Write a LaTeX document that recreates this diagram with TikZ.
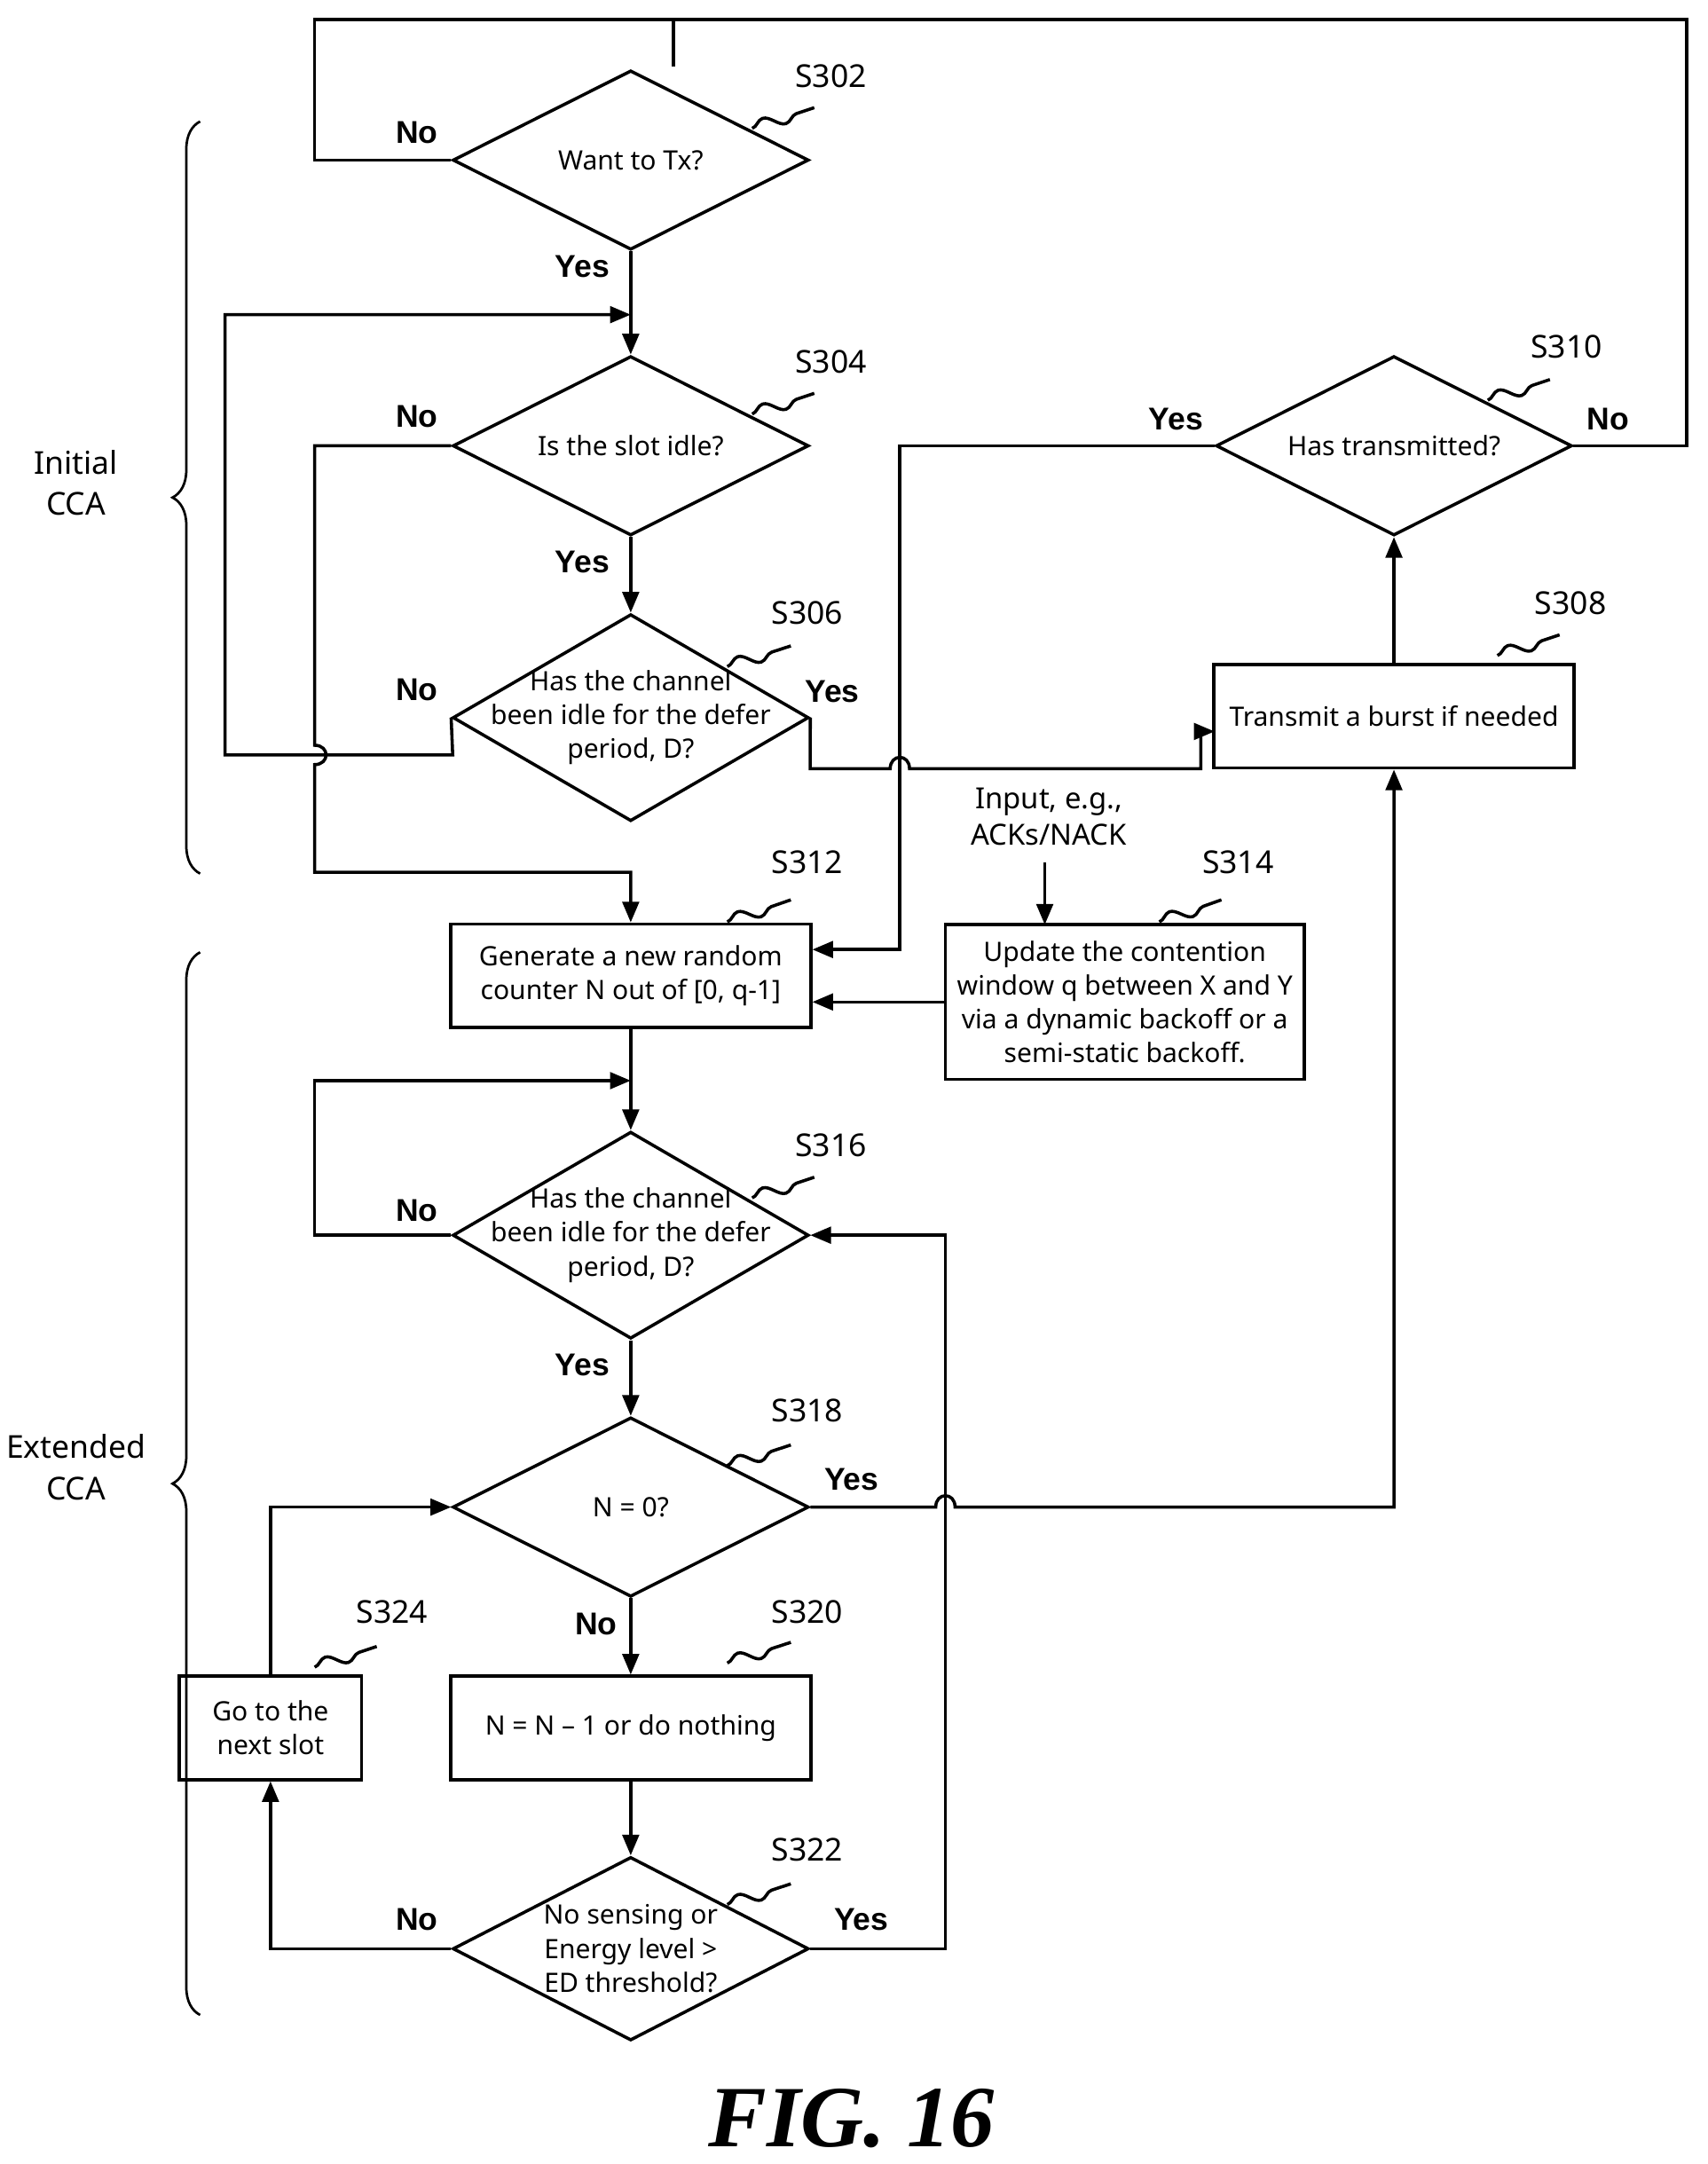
\documentclass[tikz,border=0pt]{standalone}
\usepackage{fontspec}
\setmainfont{Noto Sans}
\newfontfamily\ynfont{Liberation Sans}
\usetikzlibrary{positioning,shapes.geometric,arrows.meta,decorations.pathmorphing,decorations.pathreplacing}

\tikzset{
  dec/.style={diamond,draw,line width=1.3pt,inner sep=0pt,minimum width=5.16cm},
  dtxt/.style={align=center,font=\fontsize{11}{14}\selectfont},
  blk/.style={rectangle,draw,line width=1.3pt,align=center,font=\fontsize{11}{14}\selectfont},
  yn/.style={font=\ynfont\bfseries\fontsize{13}{15}\selectfont},
  stp/.style={font=\fontsize{13}{15}\selectfont},
  squig/.style={decorate,decoration={snake,amplitude=0.9mm,segment length=6mm}},
}
\newcommand{\steplbl}[4]{%
  \node[stp] (#1) at #2 {#3};
  \draw[squig] #4;}

\begin{document}
\begin{tikzpicture}[x=0.02cm,y=-0.02cm,line width=1.3pt,>={Triangle[length=3mm,width=2.4mm]}]
\useasboundingbox (0,0) rectangle (1237,1568);

% decisions
\node[dec,minimum height=2.6cm,label={[dtxt]center:{Want to Tx?}}] (s302) at (457,116) {};
\node[dec,minimum height=2.6cm,label={[dtxt]center:{Is the slot idle?}}] (s304) at (457,323) {};
\node[dec,minimum height=3cm,label={[dtxt]center:{Has the channel\\been idle for the defer\\period, D?}}] (s306) at (457,520) {};
\node[dec,minimum height=2.6cm,label={[dtxt]center:{Has transmitted?}}] (s310) at (1010,323) {};
\node[dec,minimum height=3cm,label={[dtxt]center:{Has the channel\\been idle for the defer\\period, D?}}] (s316) at (457,895) {};
\node[dec,minimum height=2.6cm,label={[dtxt]center:{N = 0?}}] (s318) at (457,1092) {};
\node[dec,minimum height=2.66cm,label={[dtxt]center:{No sensing or\\Energy level >\\ED threshold?}}] (s322) at (457,1412) {};

% boxes
\node[blk,minimum width=5.22cm,minimum height=1.5cm] (s308) at (1010,519) {Transmit a burst if needed};
\node[blk,minimum width=5.22cm,minimum height=1.5cm] (s312) at (457,707) {Generate a new random\\counter N out of [0, q-1]};
\node[blk,minimum width=5.2cm,minimum height=2.24cm] (s314) at (815,726) {Update the contention\\window q between X and Y\\via a dynamic backoff or a\\semi-static backoff.};
\node[blk,minimum width=5.22cm,minimum height=1.5cm] (s320) at (457,1252) {N = N -- 1 or do nothing};
\node[blk,minimum width=2.64cm,minimum height=1.5cm] (s324) at (196,1252) {Go to the\\next slot};
\node[font=\fontsize{12}{15}\selectfont,align=center] (inp) at (760,592) {Input, e.g.,\\ACKs/NACK};

% step labels
\steplbl{l302}{(602,55)}{S302}{(545,93) -- (590,78)}
\steplbl{l304}{(602,262)}{S304}{(545,300) -- (590,285)}
\steplbl{l306}{(585,444)}{S306}{(527,483) -- (573,468)}
\steplbl{l310}{(1135,251)}{S310}{(1078,290) -- (1123,275)}
\steplbl{l308}{(1138,437)}{S308}{(1085,475) -- (1130,460)}
\steplbl{l312}{(585,625)}{S312}{(527,668) -- (573,652)}
\steplbl{l314}{(897,625)}{S314}{(840,668) -- (885,652)}
\steplbl{l316}{(602,830)}{S316}{(545,868) -- (590,853)}
\steplbl{l318}{(585,1022)}{S318}{(527,1062) -- (573,1047)}
\steplbl{l320}{(585,1168)}{S320}{(527,1205) -- (573,1190)}
\steplbl{l322}{(585,1340)}{S322}{(527,1380) -- (573,1365)}
\steplbl{l324}{(284,1168)}{S324}{(228,1208) -- (273,1193)}

% connectors
\coordinate (top) at (488,14);
\coordinate (topend) at (488,48);
\draw (s302.west) -- (228,116) -- (228,14) -- (top) -- (topend);
\draw (s310.east) -- (1222,323) -- (1222,14) -- (top);
\draw[->] (s302.south) -- (s304.north);
\draw[->] (s304.south) -- (s306.north);
\draw[->] (s306.west) -- (328,547) -- (163,547) -- (163,228) -- (457,228);
\draw[->] (s304.west) -- (228,323) -- (228,540) .. controls (239,540) and (239,554) .. (228,554) -- (228,632) -- (457,632) -- (s312.north);
\draw[->] (s310.west) -- (652,323) -- (652,688) -- (s312.east |- 0,688);
\draw[->] (s306.east) -- (587,557) -- (645,557) .. controls (645,546) and (659,546) .. (659,557) -- (870,557) -- (870,530) -- (880,530);
\draw[->] (s308.north) -- (s310.south);
\draw[->] (inp.south) ++(-3,5) -- (757,670);
\draw[->] (s314.west) -- (s312.east |- s314.west);
\draw[->] (s312.south) -- (s316.north);
\draw[->] (s316.west) -- (228,895) -- (228,783) -- (457,783);
\draw[->] (s316.south) -- (s318.north);
\draw[->] (s318.south) -- (s320.north);
\draw[->] (s320.south) -- (s322.north);
\draw[->] (s318.east) -- (678,1092) .. controls (678,1081) and (692,1081) .. (692,1092) -- (1010,1092) -- (s308.south);
\draw[->] (s322.west) -- (196,1412) -- (s324.south);
\draw[->] (s322.east) -- (685,1412) -- (685,895) -- (s316.east);
\draw[->] (s324.north) -- (196,1092) -- (s318.west);

% yes/no
\node[yn] (n302) at (302,96) {No};
\node[yn] (y302) at (422,193) {Yes};
\node[yn] (n304) at (302,302) {No};
\node[yn] (y304) at (422,407) {Yes};
\node[yn] (n306) at (302,500) {No};
\node[yn] (y306) at (603,501) {Yes};
\node[yn] (y310) at (852,304) {Yes};
\node[yn] (n310) at (1165,304) {No};
\node[yn] (n316) at (302,877) {No};
\node[yn] (y316) at (422,989) {Yes};
\node[yn] (y318) at (617,1072) {Yes};
\node[yn] (n318) at (432,1177) {No};
\node[yn] (n322) at (302,1391) {No};
\node[yn] (y322) at (624,1391) {Yes};

% phases
\draw[decorate,decoration={brace,amplitude=4mm},line width=1pt] (145,633) -- (145,88);
\draw[decorate,decoration={brace,amplitude=4mm},line width=1pt] (145,1460) -- (145,690);
\node[align=center,font=\fontsize{13}{17}\selectfont] (ini) at (55,350) {Initial\\CCA};
\node[align=center,font=\fontsize{13}{17}\selectfont] (ext) at (55,1063) {Extended\\CCA};

\node[font=\fontspec{Liberation Serif}\bfseries\itshape\fontsize{36}{40}\selectfont] (fig) at (617,1535) {FIG. 16};
\end{tikzpicture}
\end{document}
